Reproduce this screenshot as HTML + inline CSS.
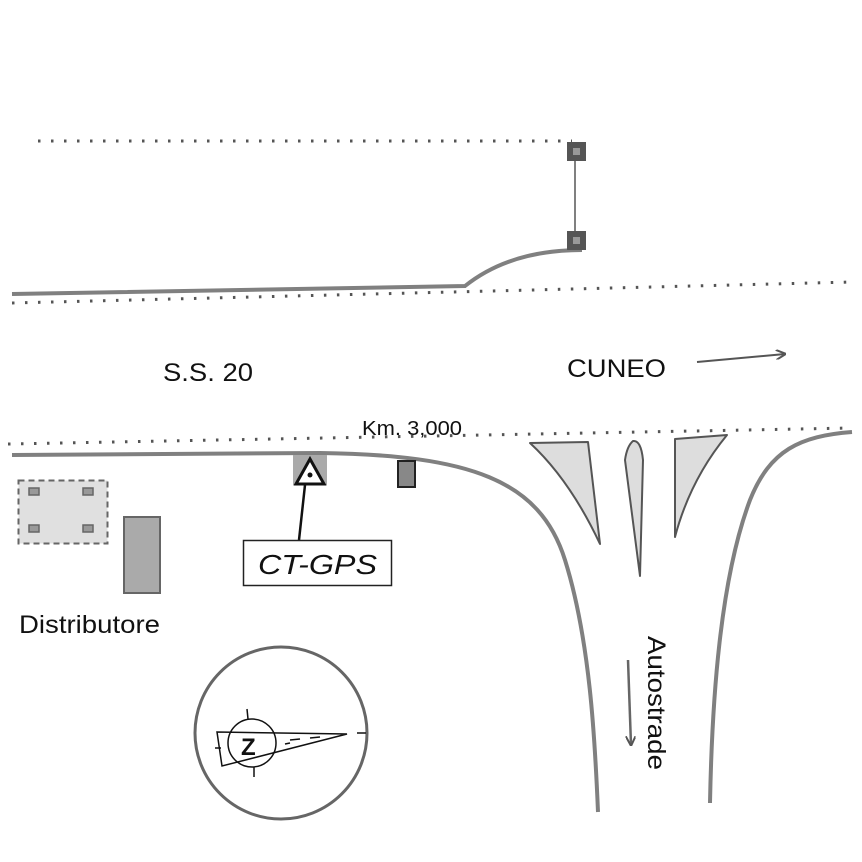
<!DOCTYPE html>
<html><head><meta charset="utf-8"><style>
html,body{margin:0;padding:0;background:#fff;}
svg{display:block;}
text{font-family:"Liberation Sans",sans-serif;fill:#111;}
</style></head><body>
<svg width="862" height="862" viewBox="0 0 862 862" xmlns="http://www.w3.org/2000/svg">
<defs>
<marker id="ah" markerWidth="10" markerHeight="10" refX="9" refY="5" orient="auto" markerUnits="userSpaceOnUse">
<path d="M0,0 L10,5 L0,10" fill="none" stroke="#555" stroke-width="2"/>
</marker>
</defs>
<g stroke="#555" stroke-width="3" stroke-dasharray="2.5 10.5" fill="none">
<line x1="38" y1="141" x2="572" y2="141"/>
<line x1="12" y1="303" x2="852" y2="282"/>
<line x1="8" y1="444" x2="852" y2="428"/>
</g>
<path d="M12,294 L465,286 Q510,250 582,250" fill="none" stroke="#808080" stroke-width="4"/>
<line x1="575" y1="151" x2="575" y2="240" stroke="#555" stroke-width="1.5"/>
<rect x="567" y="142" width="19" height="19" fill="#555"/>
<rect x="573" y="148" width="7" height="7" fill="#999"/>
<rect x="567" y="231" width="19" height="19" fill="#555"/>
<rect x="573" y="237" width="7" height="7" fill="#999"/>
<path d="M12,455 L320,453 C470,455 540,480 565,560 C590,640 595,740 598,812" fill="none" stroke="#808080" stroke-width="4"/>
<path d="M852,432 C800,436 770,450 750,500 C720,580 712,700 710,803" fill="none" stroke="#808080" stroke-width="4"/>
<g fill="#ddd" stroke="#555" stroke-width="2" stroke-linejoin="round">
<path d="M530,443 L588,442 L600,544 Q570,480 530,443 Z"/>
<path d="M633,441 Q627,446 625,460 L640,576 L643,460 Q641,440 633,441 Z"/>
<path d="M675,439 L727,435 Q690,480 675,537 Z"/>
</g>
<text x="163" y="381" font-size="25" textLength="90" lengthAdjust="spacingAndGlyphs">S.S. 20</text>
<text x="567" y="377" font-size="25" textLength="99" lengthAdjust="spacingAndGlyphs">CUNEO</text>
<line x1="697" y1="362" x2="785" y2="354" stroke="#555" stroke-width="2" marker-end="url(#ah)"/>
<text x="362" y="435" font-size="20" textLength="100" lengthAdjust="spacingAndGlyphs">Km. 3,000</text>
<rect x="293" y="455" width="34" height="30" fill="#aaa"/>
<path d="M310,459 L296,484 L324,484 Z" fill="#fff" stroke="#111" stroke-width="3"/>
<circle cx="310" cy="475" r="2.5" fill="#111"/>
<line x1="305" y1="485" x2="299" y2="540" stroke="#111" stroke-width="2.5"/>
<rect x="243.5" y="540.5" width="148" height="45" fill="#fff" stroke="#222" stroke-width="1.5"/>
<text x="258" y="574" font-size="28" font-style="italic" textLength="119" lengthAdjust="spacingAndGlyphs">CT-GPS</text>
<rect x="398" y="461" width="17" height="26" fill="#888" stroke="#222" stroke-width="2"/>
<rect x="18.5" y="480.5" width="89" height="63" fill="#e0e0e0" stroke="#666" stroke-width="2" stroke-dasharray="6 4"/>
<g fill="#999" stroke="#666" stroke-width="1.5">
<rect x="29" y="488" width="10" height="7"/><rect x="83" y="488" width="10" height="7"/>
<rect x="29" y="525" width="10" height="7"/><rect x="83" y="525" width="10" height="7"/>
</g>
<rect x="124" y="517" width="36" height="76" fill="#aaa" stroke="#666" stroke-width="2"/>
<text x="19" y="633" font-size="25" textLength="141" lengthAdjust="spacingAndGlyphs">Distributore</text>
<circle cx="281" cy="733" r="86" fill="#fff" stroke="#666" stroke-width="3"/>
<g stroke="#111" stroke-width="1.5" fill="none">
<path d="M217,732 L347,734 L222,766 Z"/>
<circle cx="252" cy="743" r="24"/>
<line x1="247" y1="709" x2="248" y2="719"/>
<line x1="254" y1="767" x2="254" y2="777"/>
<line x1="215" y1="748" x2="221" y2="748"/>
<line x1="285" y1="744" x2="290" y2="743"/>
<line x1="290" y1="740" x2="300" y2="739"/>
<line x1="310" y1="738" x2="320" y2="737"/>
<line x1="357" y1="733" x2="366" y2="733"/>
</g>
<text x="241" y="755" font-size="24" font-weight="bold" fill="#111">Z</text>
<line x1="628" y1="660" x2="631" y2="745" stroke="#666" stroke-width="2.5" marker-end="url(#ah)"/>
<text font-size="25" transform="translate(648,636) rotate(90)" textLength="134" lengthAdjust="spacingAndGlyphs">Autostrade</text>
</svg>
</body></html>
